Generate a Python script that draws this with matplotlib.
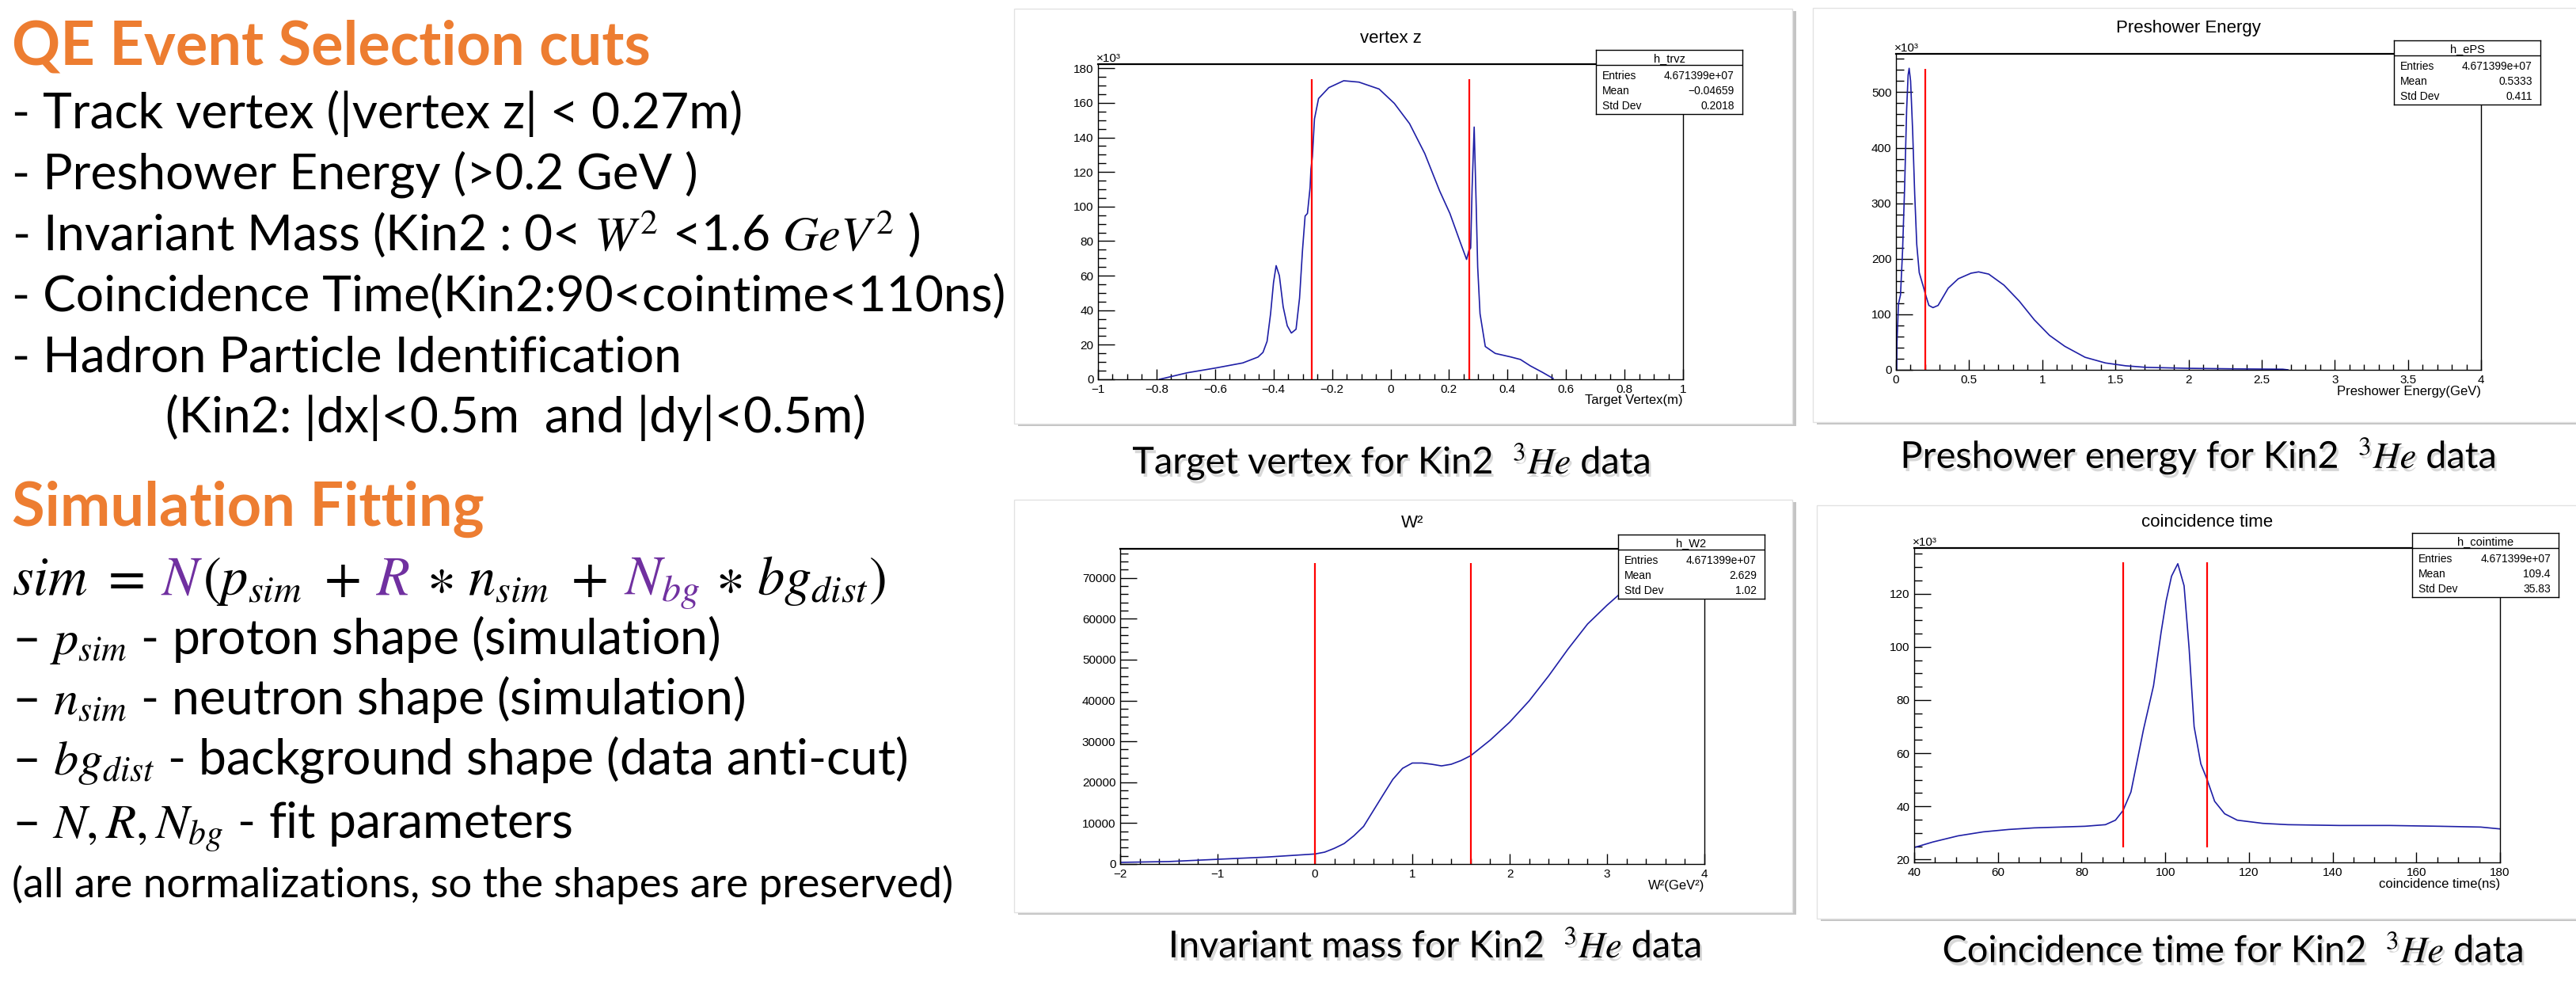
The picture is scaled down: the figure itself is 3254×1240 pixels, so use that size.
import matplotlib
matplotlib.use("Agg")
import matplotlib.pyplot as plt
import matplotlib.patheffects as pe
from matplotlib.patches import Rectangle
from matplotlib.ticker import MultipleLocator, FuncFormatter
from matplotlib.offsetbox import TextArea, HPacker, DrawingArea, AnnotationBbox

W, H = 3254, 1240

# ---- histogram shapes ----
vertex_z = [-0.79, -0.695, -0.60, -0.505, -0.453, -0.436, -0.422, -0.41, -0.40, -0.391,
            -0.38, -0.367, -0.353, -0.339, -0.323, -0.311, -0.301, -0.292, -0.284, -0.275,
            -0.272, -0.267, -0.26, -0.246, -0.211, -0.16, -0.108, -0.039, 0.013, 0.065,
            0.117, 0.168, 0.203, 0.237, 0.26, 0.268, 0.274, 0.279, 0.286, 0.293,
            0.298, 0.306, 0.324, 0.358, 0.41, 0.444, 0.478, 0.52, 0.556]
vertex_counts_k = [0, 3.8, 6.5, 9.5, 12.9, 15.6, 22, 38, 56, 65.8,
                   60, 42, 31, 26.8, 29, 47, 74.5, 94.5, 96, 111,
                   121.7, 129, 150.7, 162.5, 168.8, 172.8, 172, 168, 159.7, 148,
                   130.7, 109, 96, 80, 69.4, 74.5, 76, 111, 146, 100,
                   65, 38, 19, 15, 13, 11.5, 7.8, 4, 0.5]

eps_energy = [0.005, 0.007, 0.017, 0.031, 0.045, 0.059, 0.073, 0.083, 0.09, 0.1,
              0.114, 0.128, 0.142, 0.159, 0.184, 0.205, 0.225, 0.253, 0.288, 0.357,
              0.426, 0.513, 0.565, 0.634, 0.738, 0.842, 0.946, 1.05, 1.154, 1.293,
              1.432, 1.57, 1.709, 1.986, 2.333, 2.645, 2.68]
eps_counts_k = [0, 50, 118.7, 135, 214, 328, 469, 531, 543, 520,
                430, 316.6, 226, 175, 152.6, 133, 116, 112, 116, 147,
                164, 174, 176.4, 172.4, 152.6, 124, 90, 62, 42.4, 22.6,
                12.4, 7.3, 4.5, 2.8, 1.7, 1.1, 0]

w2 = [-2.0, -1.5, -1.0, -0.5, 0.0, 0.1, 0.2, 0.3, 0.4, 0.5, 0.6, 0.7, 0.8, 0.9, 1.0,
      1.1, 1.2, 1.3, 1.4, 1.5, 1.6, 1.8, 2.0, 2.2, 2.4, 2.6, 2.8, 3.0, 3.1, 3.3, 3.5,
      3.7, 4.0]
w2_counts = [400, 600, 1150, 1690, 2450, 2900, 3840, 5000, 6900, 9200, 13050, 16900,
             20700, 23400, 24700, 24700, 24400, 24000, 24400, 25300, 26500, 30300,
             34700, 39900, 46000, 52600, 58700, 63300, 65400, 69500, 72500, 73400, 72000]

cointime = [40, 44.5, 50.5, 56.5, 62.6, 68.7, 74.8, 80.8, 85.7, 88.1, 89.9, 91.8, 93.0,
            94.8, 97.2, 99.0, 100.2, 101.5, 103.0, 104.5, 105.7, 106.9, 108.5, 110.0,
            111.8, 114.2, 117.2, 123.3, 129.3, 141.5, 153.6, 165.7, 175.4, 180]
cointime_counts_k = [24.5, 26.6, 28.9, 30.4, 31.3, 31.9, 32.2, 32.5, 33.1, 34.8, 38.4,
                     45.4, 54.8, 68.9, 85.4, 105.4, 117.2, 126.6, 131.3, 123, 99.5, 70,
                     56, 50.1, 41.9, 37.2, 34.8, 33.6, 33.1, 32.8, 32.8, 32.5, 32.2, 31.5]

# cut lines (x positions) and the y span they are drawn over
vertex_cuts, vertex_cut_span = [-0.27, 0.27], (0, 173.9)
eps_cuts, eps_cut_span = [0.2], (0, 541.5)
w2_cuts, w2_cut_span = [0.0, 1.6], (0, 73700)
cointime_cuts, cointime_cut_span = [90, 110], (24.5, 131.8)

hist_names = ["h_trvz", "h_ePS", "h_W2", "h_cointime"]
hist_entries = ["4.671399e+07"] * 4
hist_means = ["\u22120.04659", "0.5333", "2.629", "109.4"]
hist_stds = ["0.2018", "0.411", "1.02", "35.83"]
hist_titles = ["vertex z", "Preshower Energy", "W\u00b2", "coincidence time"]
hist_xlabels = ["Target Vertex(m)", "Preshower Energy(GeV)", "W\u00b2(GeV\u00b2)",
                "coincidence time(ns)"]
captions = ["Target vertex for Kin2  $^{3}He$ data",
            "Preshower energy for Kin2  $^{3}He$ data",
            "Invariant mass for Kin2  $^{3}He$ data",
            "Coincidence time for Kin2  $^{3}He$ data"]

cut_heading = "QE Event Selection cuts"
cut_lines = ["- Track vertex (|vertex z| < 0.27m)",
             "- Preshower Energy (>0.2 GeV )",
             "- Invariant Mass (Kin2 : 0< $W^{2}$ <1.6 $GeV^{2}$ )",
             "- Coincidence Time(Kin2:90<cointime<110ns)",
             "- Hadron Particle Identification",
             "(Kin2: |dx|<0.5m  and |dy|<0.5m)"]
fit_heading = "Simulation Fitting"
# (piece, colour, gap before it in em)
fit_equation = [(r"$sim\ =$", "k", 0), (r"$N$", "p", 0.3), (r"$(p_{sim}\ +$", "k", 0),
                (r"$R$", "p", 0.3), (r"$\ast\ n_{sim}\ +$", "k", 0.3),
                (r"$N_{bg}$", "p", 0.3), (r"$\ast\ bg_{dist})$", "k", 0.3)]
fit_lines = ["\u2013 $p_{sim}$ - proton shape (simulation)",
             "\u2013 $n_{sim}$ - neutron shape (simulation)",
             "\u2013 $bg_{dist}$ - background shape (data anti-cut)",
             "\u2013 $N, R, N_{bg}$ - fit parameters"]
fit_note = "(all are normalizations, so the shapes are preserved)"

plt.rcParams["mathtext.fontset"] = "stix"
ROOT_FONT = ["Liberation Sans", "DejaVu Sans"]
SLIDE_FONT = ["Lato", "DejaVu Sans"]
ORANGE = "#ED7D31"
PURPLE = "#7030A0"
HIST_BLUE = "#1f1fa6"
CUT_RED = "#ff0000"

fig = plt.figure(figsize=(W / 100, H / 100), dpi=100)
fig.patch.set_facecolor("white")
renderer = fig.canvas.get_renderer()


def rect(left, top, right, bottom):
    return [left / W, 1 - bottom / H, (right - left) / W, (bottom - top) / H]


def tick_fmt(v, _):
    v = round(v, 6)
    if v == 0:
        return "0"
    return f"{v:g}".replace("-", "\u2212")


def fit_size(texts, widths, base):
    # one common font size so the lines span roughly the widths seen on the slide
    ratios = sorted(w / t.get_window_extent(renderer).width for t, w in zip(texts, widths))
    size = base * ratios[len(ratios) // 2]
    for t in texts:
        t.set_fontsize(size)
    return size


def panel_card(left, top, right, bottom):
    x, y, w, h = rect(left, top, right, bottom)
    fig.add_artist(Rectangle((x + 5 / W, y - 3 / H), w, h, transform=fig.transFigure,
                             facecolor="#c4c4c4", edgecolor="none", zorder=-3))
    fig.add_artist(Rectangle((x, y), w, h, transform=fig.transFigure,
                             facecolor="white", edgecolor="#e2e2e2", lw=1, zorder=-2))


def stats_box(left, top, name, entries, mean, std):
    ax = fig.add_axes(rect(left, top, left + 185, top + 81))
    ax.set_xlim(0, 185)
    ax.set_ylim(81, 0)
    ax.set_xticks([])
    ax.set_yticks([])
    for s in ax.spines.values():
        s.set_color("black")
        s.set_linewidth(1.0)
    ax.axhline(19, color="black", lw=1.0)
    ax.text(92.5, 15, name, ha="center", va="baseline", fontsize=10.5, family=ROOT_FONT)
    for i, (label, value) in enumerate([("Entries", entries), ("Mean", mean),
                                        ("Std Dev", std)]):
        y = 37 + 19 * i
        ax.text(8, y, label, ha="left", va="baseline", fontsize=10, family=ROOT_FONT)
        ax.text(175, y, value, ha="right", va="baseline", fontsize=10, family=ROOT_FONT)
    ax.set_zorder(5)


def root_hist(box, x, y, xlim, ylim, xmaj, xmin, ymaj, ymin, cuts, span,
              title, xlabel, scaled):
    ax = fig.add_axes(rect(*box))
    ax.plot(x, y, color=HIST_BLUE, lw=1.2)
    ax.vlines(cuts, span[0], span[1], color=CUT_RED, lw=1.6)
    ax.set_xlim(xlim)
    ax.set_ylim(ylim)
    ax.xaxis.set_major_locator(MultipleLocator(xmaj))
    ax.xaxis.set_minor_locator(MultipleLocator(xmin))
    ax.yaxis.set_major_locator(MultipleLocator(ymaj))
    ax.yaxis.set_minor_locator(MultipleLocator(ymin))
    ax.xaxis.set_major_formatter(FuncFormatter(tick_fmt))
    ax.yaxis.set_major_formatter(FuncFormatter(tick_fmt))
    ax.tick_params(which="both", direction="in", top=False, right=False, width=1,
                   labelsize=11, labelfontfamily="Liberation Sans", color="black")
    ax.tick_params(axis="x", which="major", length=9.5, pad=4)
    ax.tick_params(axis="x", which="minor", length=5)
    ax.tick_params(axis="y", which="major", length=15, pad=4)
    ax.tick_params(axis="y", which="minor", length=7.5)
    for s in ax.spines.values():
        s.set_color("black")
        s.set_linewidth(1.0)
    ax.spines["top"].set_linewidth(1.6)
    ax.annotate(title, xy=(0.5, 1), xycoords="axes fraction", xytext=(0, 32),
                textcoords="offset pixels", ha="center", va="center", fontsize=16,
                family=ROOT_FONT)
    ax.annotate(xlabel, xy=(1, 0), xycoords="axes fraction", xytext=(0, -27),
                textcoords="offset pixels", ha="right", va="center", fontsize=12,
                family=ROOT_FONT)
    if scaled:
        ax.annotate("\u00d710\u00b3", xy=(0, 1), xycoords="axes fraction",
                    xytext=(-2, 3), textcoords="offset pixels", ha="left",
                    va="baseline", fontsize=11, family=ROOT_FONT)
    return ax


# panel cards
panel_card(1281, 11, 2264, 535)
panel_card(2290, 10, 3262, 533)
panel_card(1281, 631, 2264, 1152)
panel_card(2295, 638, 3262, 1160)

root_hist((1387, 81, 2126, 479), vertex_z, vertex_counts_k, (-1, 1), (0, 182.4),
          0.2, 0.05, 20, 5, vertex_cuts, vertex_cut_span, hist_titles[0],
          hist_xlabels[0], True)
root_hist((2395, 68, 3134, 467), eps_energy, eps_counts_k, (0, 4), (0, 569),
          0.5, 0.1, 100, 20, eps_cuts, eps_cut_span, hist_titles[1],
          hist_xlabels[1], True)
root_hist((1415, 693, 2153, 1091), w2, w2_counts, (-2, 4), (0, 77100),
          1, 0.2, 10000, 2000, w2_cuts, w2_cut_span, hist_titles[2],
          hist_xlabels[2], False)
root_hist((2418, 692, 3158, 1089), cointime, cointime_counts_k, (40, 180), (18.9, 137.2),
          20, 5, 20, 5, cointime_cuts, cointime_cut_span, hist_titles[3],
          hist_xlabels[3], True)

for (left, top), i in zip([(2016, 63), (3024, 51), (2044, 675), (3047, 673)], range(4)):
    stats_box(left, top, hist_names[i], hist_entries[i], hist_means[i], hist_stds[i])

shadow = [pe.withSimplePatchShadow(offset=(2, -3), shadow_rgbFace="#808080", alpha=0.3)]
cap_texts = []
for (cx, base), text in zip([(1757, 598), (2776, 591), (1812, 1209), (2820, 1215)],
                            captions):
    cap_texts.append(fig.text(cx / W, 1 - base / H, text, ha="center", va="baseline",
                              fontsize=33, family=SLIDE_FONT, path_effects=shadow))
fit_size(cap_texts, [629, 734, 674, 736], 33)

# left column text
heads = [fig.text(15 / W, 1 - 81 / H, cut_heading, color=ORANGE, fontsize=44,
                  fontweight="bold", family=SLIDE_FONT, va="baseline"),
         fig.text(15 / W, 1 - 664 / H, fit_heading, color=ORANGE, fontsize=44,
                  fontweight="bold", family=SLIDE_FONT, va="baseline")]
fit_size(heads, [799, 596], 44)

body, body_w = [], []
for line, base, right in zip(cut_lines, [162, 239, 316, 393, 470, 546],
                             [891, 842, 1158, 1268, 850, 1085]):
    x0 = 209 if line.startswith("(") else 15
    body.append(fig.text(x0 / W, 1 - base / H, line, fontsize=40, family=SLIDE_FONT,
                         va="baseline"))
    body_w.append(right - x0)
for line, base, right in zip(fit_lines, [826, 902, 978, 1058], [946, 984, 1199, 749]):
    body.append(fig.text(15 / W, 1 - base / H, line, fontsize=40, family=SLIDE_FONT,
                         va="baseline"))
    body_w.append(right - 15)
fit_size(body, body_w, 40)
note = fig.text(15 / W, 1 - 1133 / H, fit_note, fontsize=34, family=SLIDE_FONT,
                va="baseline")
fit_size([note], [1192], 34)


def make_equation(size):
    kids = []
    for s, c, gap in fit_equation:
        if gap:
            kids.append(DrawingArea(gap * size, 1))
        kids.append(TextArea(s, textprops=dict(color=PURPLE if c == "p" else "black",
                                               fontsize=size)))
    box = HPacker(children=kids, align="baseline", pad=0, sep=0)
    box.set_figure(fig)
    return box


eq_size = 42 * 1107 / make_equation(42).get_bbox(renderer).width
fig.add_artist(AnnotationBbox(make_equation(eq_size), (15 / W, 1 - 735 / H),
                              xycoords="figure fraction", box_alignment=(0, 0.5),
                              frameon=False, pad=0))

fig.savefig("out.png", dpi=100, facecolor="white")
